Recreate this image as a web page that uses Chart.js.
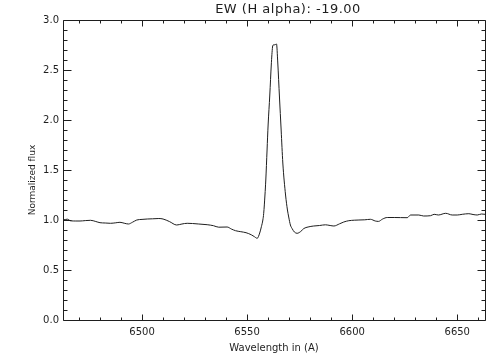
<!DOCTYPE html>
<html>
<head>
<meta charset="utf-8">
<script src="https://cdn.jsdelivr.net/npm/chart.js@4.4.1/dist/chart.umd.min.js"></script>
<style>
    html, body { margin: 0; padding: 0; background: #fff; }
    #wrap { width: 504px; height: 360px; }
</style>
</head>
<body>
<div id="wrap"><canvas id="spectrum"></canvas></div>
<script>
// --- data ---
const wavelength = [
    6462.4, 6464.5, 6466.0, 6468.5, 6470.5, 6473.0, 6475.5, 6478.0, 6480.0, 6482.5,
    6485.0, 6487.5, 6489.5, 6491.5, 6493.5, 6495.5, 6497.5, 6500.0, 6502.5, 6505.0,
    6508.0, 6510.0, 6513.0, 6516.5, 6519.0, 6521.5, 6524.0, 6527.0, 6531.0, 6534.0,
    6536.5, 6540.5, 6542.5, 6544.5, 6547.0, 6549.5, 6552.0, 6553.5, 6554.8, 6556.0,
    6556.8, 6557.5, 6557.9, 6558.5, 6558.9, 6559.5, 6560.0, 6560.8, 6561.5, 6562.1,
    6562.4, 6563.2, 6564.0, 6564.6, 6565.4, 6566.2, 6567.0, 6568.3, 6569.2, 6569.8,
    6570.6, 6571.4, 6572.5, 6573.8, 6575.5, 6577.0, 6579.0, 6581.7, 6584.5, 6587.3,
    6589.5, 6591.3, 6594.0, 6596.0, 6598.4, 6601.0, 6603.2, 6606.0, 6608.7, 6611.0,
    6612.5, 6614.5, 6616.7, 6620.0, 6623.0, 6626.2, 6627.8, 6631.7, 6634.0, 6637.3,
    6639.0, 6641.0, 6644.5, 6647.6, 6650.0, 6652.4, 6655.5, 6657.5, 6659.5, 6661.5,
    6663.2
];
const flux = [
    1.000, 1.008, 0.992, 0.990, 0.990, 0.994, 0.997, 0.985, 0.973, 0.970,
    0.967, 0.972, 0.977, 0.968, 0.960, 0.978, 1.000, 1.006, 1.010, 1.012,
    1.015, 1.010, 0.985, 0.950, 0.960, 0.967, 0.965, 0.960, 0.953, 0.943,
    0.928, 0.930, 0.910, 0.893, 0.883, 0.873, 0.852, 0.833, 0.817, 0.870,
    0.933, 1.000, 1.067, 1.250, 1.400, 1.700, 1.950, 2.250, 2.550, 2.730,
    2.750, 2.752, 2.760, 2.570, 2.230, 1.900, 1.570, 1.250, 1.100, 1.030,
    0.950, 0.915, 0.880, 0.867, 0.885, 0.915, 0.930, 0.940, 0.945, 0.952,
    0.945, 0.940, 0.962, 0.980, 0.993, 0.998, 1.000, 1.002, 1.007, 0.990,
    0.986, 1.010, 1.025, 1.025, 1.024, 1.023, 1.050, 1.050, 1.040, 1.043,
    1.057, 1.050, 1.067, 1.050, 1.050, 1.057, 1.063, 1.055, 1.050, 1.060,
    1.057
];
const xTicks = [6500, 6550, 6600, 6650];
const yTicks = [0.0, 0.5, 1.0, 1.5, 2.0, 2.5, 3.0];
const xRange = [6462.4, 6663.2];
const yRange = [0, 3];
const titleText = 'EW (H alpha): -19.00';
const xTitle = 'Wavelength in (A)';
const yTitle = 'Normalized flux';

const INK = '#1e1e1e';
const FONT = "'DejaVu Sans', sans-serif";

// IDL-style box: ticks pointing inward on all four sides + titles
const idlBox = {
    id: 'idlBox',
    afterDraw(chart) {
        const { ctx, chartArea: a, scales: { x, y } } = chart;
        const L = Math.round(a.left) + 0.5, R = Math.round(a.right) + 0.5;
        const T = Math.round(a.top) + 0.5, B = Math.round(a.bottom) + 0.5;
        ctx.save();
        ctx.strokeStyle = INK;
        ctx.lineWidth = 1;
        ctx.beginPath();
        ctx.rect(L, T, R - L, B - T);

        // x ticks every 10 A, major every 50 A
        for (let v = Math.ceil(xRange[0] / 10) * 10; v <= xRange[1]; v += 10) {
            const px = Math.round(x.getPixelForValue(v)) + 0.5;
            const len = v % 50 === 0 ? 6 : 3;
            ctx.moveTo(px, B); ctx.lineTo(px, B - len);
            ctx.moveTo(px, T); ctx.lineTo(px, T + len);
        }
        // y ticks every 0.1, major every 0.5
        for (let i = 0; i <= 30; i++) {
            const py = Math.round(y.getPixelForValue(i / 10)) + 0.5;
            const len = i % 5 === 0 ? 8 : 4;
            ctx.moveTo(L, py); ctx.lineTo(L + len, py);
            ctx.moveTo(R, py); ctx.lineTo(R - len, py);
        }
        ctx.stroke();

        ctx.fillStyle = INK;
        ctx.textAlign = 'center';
        ctx.textBaseline = 'middle';
        ctx.font = '13px ' + FONT;
        ctx.letterSpacing = '0.5px';
        ctx.fillText(titleText, 288, 10);
        ctx.font = '10px ' + FONT;
        ctx.letterSpacing = '0px';
        ctx.fillText(xTitle, (a.left + a.right) / 2, 348);
        ctx.translate(33, 180);
        ctx.rotate(-Math.PI / 2);
        ctx.font = '9px ' + FONT;
        ctx.fillText(yTitle, 0, 0);
        ctx.restore();
    }
};

new Chart(document.getElementById('spectrum'), {
    type: 'line',
    data: {
        datasets: [{
            data: wavelength.map((w, i) => ({ x: w, y: flux[i] })),
            borderColor: INK,
            borderWidth: 1,
            pointRadius: 0,
            cubicInterpolationMode: 'monotone',
            fill: false
        }]
    },
    options: {
        responsive: true,
        maintainAspectRatio: false,
        animation: false,
        layout: { padding: { left: 0, right: 19, top: 20, bottom: 0 } },
        plugins: {
            legend: { display: false },
            title: { display: false },
            tooltip: { enabled: false }
        },
        scales: {
            x: {
                type: 'linear',
                min: xRange[0],
                max: xRange[1],
                afterFit: s => { s.height = 40; },
                afterBuildTicks: s => { s.ticks = xTicks.map(v => ({ value: v })); },
                grid: { display: false, drawTicks: false },
                border: { display: false },
                ticks: {
                    padding: 6,
                    color: INK,
                    font: { family: FONT, size: 10 },
                    maxRotation: 0,
                    callback: v => String(v)
                }
            },
            y: {
                type: 'linear',
                min: yRange[0],
                max: yRange[1],
                afterFit: s => { s.width = 63; },
                afterBuildTicks: s => { s.ticks = yTicks.map(v => ({ value: v })); },
                grid: { display: false, drawTicks: false },
                border: { display: false },
                ticks: {
                    padding: 4,
                    color: INK,
                    font: { family: FONT, size: 10 },
                    callback: v => Number(v).toFixed(1)
                }
            }
        }
    },
    plugins: [idlBox]
});
</script>
</body>
</html>
